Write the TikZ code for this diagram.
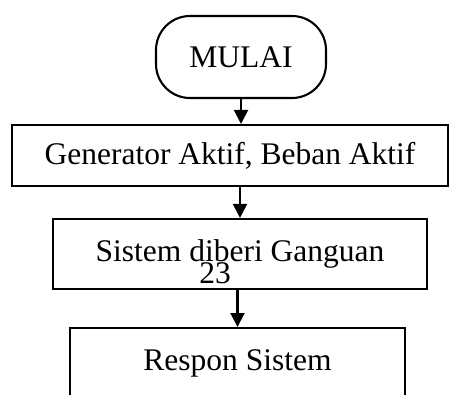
\documentclass[tikz,border=0pt]{standalone}
\usepackage{fontspec}
\setmainfont{Liberation Serif}
\usetikzlibrary{arrows.meta}
\begin{document}
\begin{tikzpicture}[x=1pt,y=-1pt,
  box/.style={draw,line width=2.1pt,inner sep=0pt,font=\fontsize{31.5}{37}\selectfont},
  startbox/.style={box,rounded corners=34pt},
  flow/.style={line width=2.1pt,-{Triangle[length=14pt,width=14pt]}}]
  \clip (0,0) rectangle (450,394);
  \node[startbox,minimum width=170pt,minimum height=82pt] (mulai) at (241,57) {MULAI};
  \node[box,minimum width=436pt,minimum height=61pt] (aktif) at (230,155.5) {Generator Aktif, Beban Aktif};
  \node[box,minimum width=374pt,minimum height=70pt] (ganguan) at (240,254) {Sistem diberi Ganguan};
  \node[box,minimum width=335pt,minimum height=70pt,anchor=north] (respon) at (237.5,327) {Respon Sistem};
  \node[font=\fontsize{31.5}{37}\selectfont,inner sep=0pt] (halaman) at (215,273) {23};
  \draw[flow] (mulai.south) -- (mulai.south |- aktif.north);
  \draw[flow] (ganguan.north |- aktif.south) -- (ganguan.north);
  \draw[flow] (respon.north |- ganguan.south) -- (respon.north);
\end{tikzpicture}
\end{document}
